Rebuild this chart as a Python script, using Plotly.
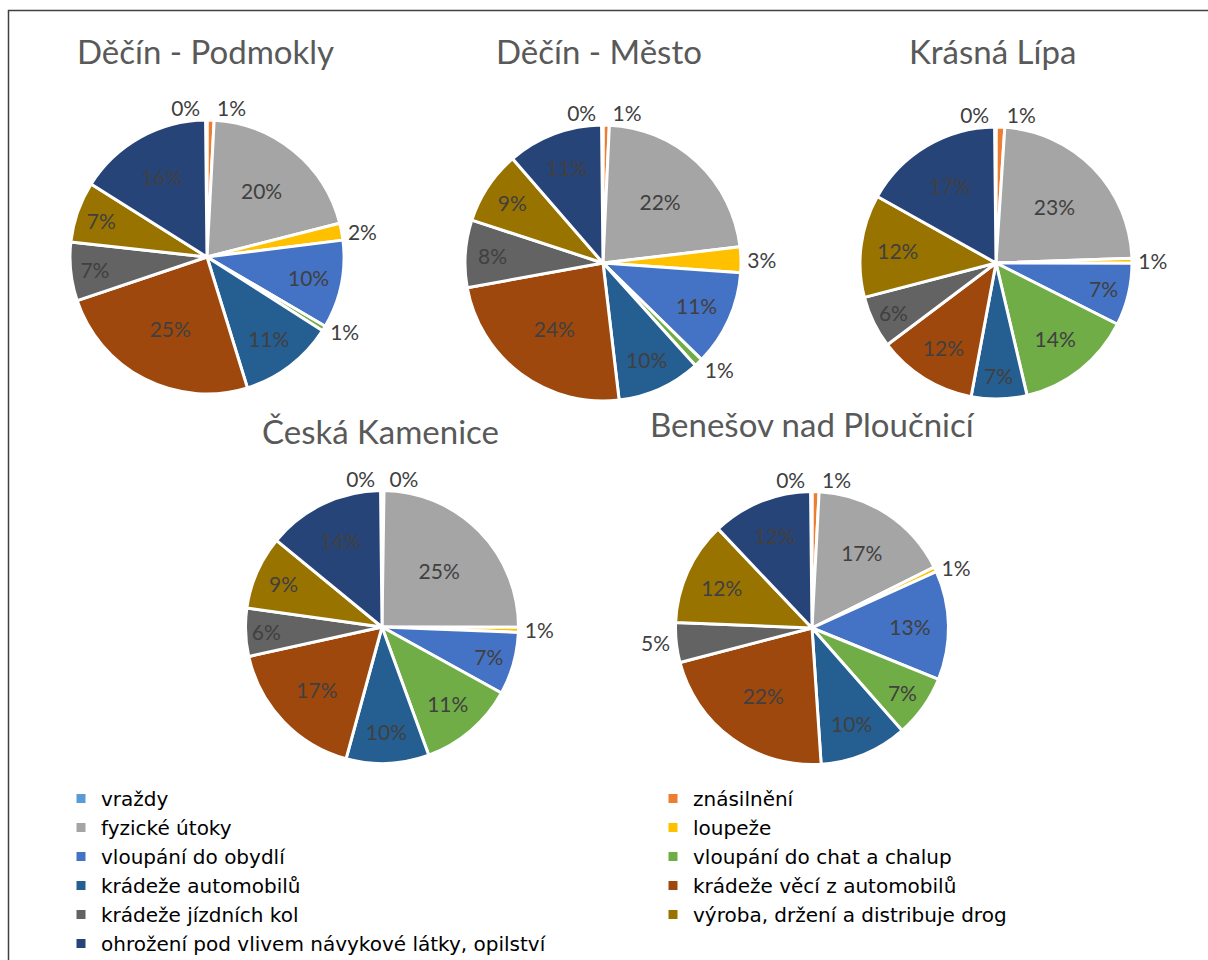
import plotly.graph_objects as go

W, H = 1208, 960

categories = [
    "vraždy", "znásilnění", "fyzické útoky", "loupeže",
    "vloupání do obydlí", "vloupání do chat a chalup",
    "krádeže automobilů", "krádeže věcí z automobilů",
    "krádeže jízdních kol", "výroba, držení a distribuje drog",
    "ohrožení pod vlivem návykové látky, opilství",
]
colors = ["#5B9BD5", "#ED7D31", "#A5A5A5", "#FFC000", "#4472C4", "#70AD47",
          "#255E91", "#9E480E", "#636363", "#997300", "#264478"]

titles = ["Děčín - Podmokly", "Děčín - Město", "Krásná Lípa",
          "Česká Kamenice", "Benešov nad Ploučnicí"]

podmokly = [0.2, 0.8, 20.2, 2.0, 10.4, 0.6, 11.2, 24.6, 6.9, 7.2, 15.9]
mesto = [0.2, 0.7, 22.4, 3.0, 11.2, 1.0, 9.8, 24.0, 7.9, 8.6, 11.2]
krasna_lipa = [0.2, 1.0, 23.4, 0.6, 7.4, 13.9, 6.6, 11.8, 6.2, 12.2, 16.7]
ceska_kamenice = [0.2, 0.2, 24.8, 0.6, 7.4, 11.4, 9.8, 17.3, 5.7, 8.7, 13.9]
benesov = [0.2, 0.8, 16.8, 0.6, 12.9, 7.4, 10.4, 22.0, 4.7, 12.3, 11.9]

series = [podmokly, mesto, krasna_lipa, ceska_kamenice, benesov]

# layout (pixel centres / radii / title positions)
centres = [(207, 257), (603, 263), (996, 263), (382, 627), (812, 628)]
radii = [137, 138, 136, 136.5, 136.5]
title_pos = [(205, 51), (599, 51), (992, 51), (381, 431), (812, 424)]

FONT = "Lato, 'Open Sans', sans-serif"
LEGEND_FONT = "'DejaVu Sans', sans-serif"

fig = go.Figure()
for vals, (cx, cy), r in zip(series, centres, radii):
    pos = ["inside" if v >= 5 else "outside" for v in vals]
    fig.add_trace(go.Pie(
        labels=categories,
        values=vals,
        sort=False,
        direction="clockwise",
        rotation=-0.6,
        marker=dict(colors=colors, line=dict(color="white", width=3)),
        texttemplate="%{percent:.0%}",
        textposition=pos,
        insidetextorientation="horizontal",
        insidetextfont=dict(color="#404040", size=21, family=FONT),
        outsidetextfont=dict(color="#404040", size=21, family=FONT),
        domain=dict(x=[(cx - r) / W, (cx + r) / W],
                    y=[1 - (cy + r) / H, 1 - (cy - r) / H]),
        hoverinfo="label+percent",
    ))

annotations = []
for t, (tx, ty) in zip(titles, title_pos):
    annotations.append(dict(
        text=t, x=tx / W, y=1 - ty / H, xref="paper", yref="paper",
        showarrow=False, xanchor="center", yanchor="middle",
        font=dict(size=33, color="#595959", family=FONT),
    ))

fig.update_layout(
    width=W, height=H,
    margin=dict(l=0, r=0, t=0, b=0, autoexpand=False),
    paper_bgcolor="white",
    plot_bgcolor="white",
    font=dict(family=FONT, color="#404040"),
    annotations=annotations,
    showlegend=True,
    legend=dict(
        orientation="h",
        x=61 / W, xanchor="left",
        y=1 - 779 / H, yanchor="top",
        entrywidth=547, entrywidthmode="pixels",
        font=dict(size=20, color="#000000", family=LEGEND_FONT),
        traceorder="normal",
        itemclick=False,
        bgcolor="rgba(0,0,0,0)",
    ),
    shapes=[dict(type="rect", xref="paper", yref="paper",
                 x0=8.5 / W, x1=1.02, y0=-0.02, y1=1 - 10.5 / H,
                 line=dict(color="#404040", width=1.5))],
)

fig.write_html(
    "out.html",
    config={"displayModeBar": False},
    post_script="document.body.style.margin='0';document.body.style.padding='0';"
                "document.body.style.overflow='hidden';",
)
